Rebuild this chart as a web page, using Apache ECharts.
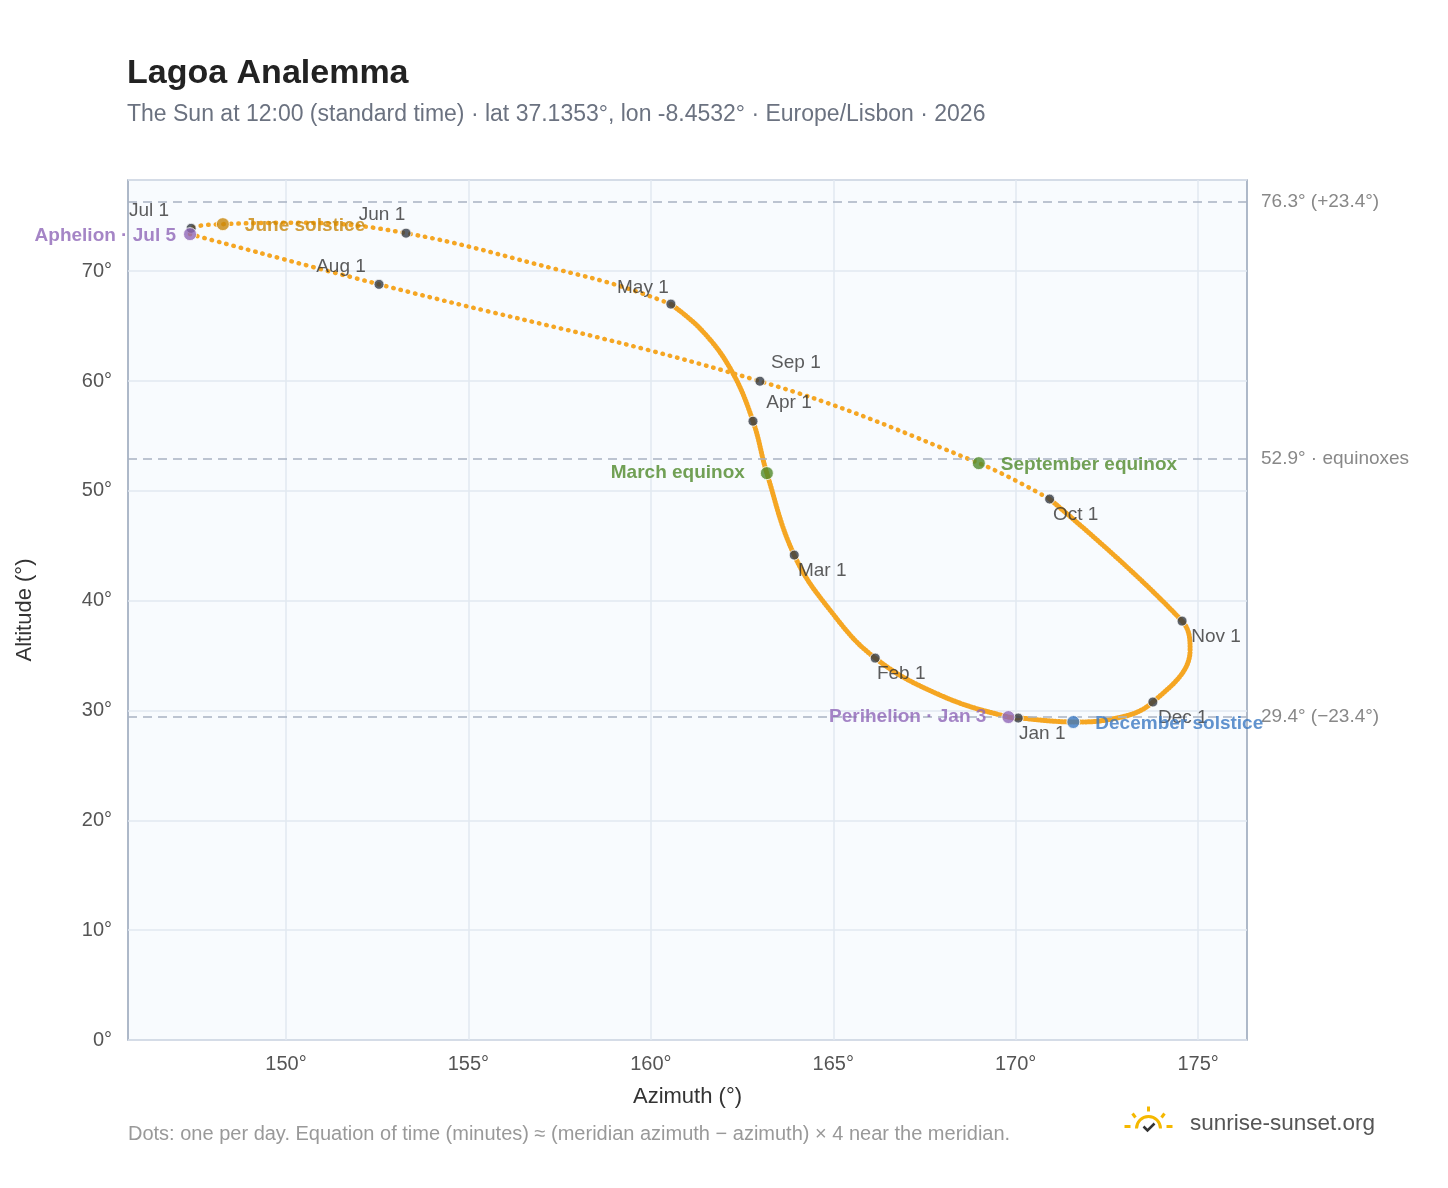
<!DOCTYPE html>
<html><head><meta charset="utf-8">
<script src="https://cdn.jsdelivr.net/npm/echarts@6/dist/echarts.min.js"></script>
<style>html,body{margin:0;background:#fff}#c{width:1448px;height:1188px}</style></head>
<body><div id="c"></div>
<script>
// analemma path [azimuth, altitude], Jan 1 -> Dec 31
const pathDense1 = [[170.07,29.31],[169.8,29.4],[167.93,31.4],[166.15,34.77],[164.92,39.1],[163.93,44.15],[163.18,51.61],[162.80,56.34],[162.2,61.0],[161.4,64.6],[160.55,67.0]];
const pathSparse1 = [[160.55,67.0],[159.2,68.6],[157.5,70.1],[153.29,73.46],[150.38,74.4],[148.27,74.28],[147.4,73.9],[147.37,73.37]];
const pathSparse2 = [[147.37,73.37],[152.55,68.8],[162.99,59.98],[168.99,52.52],[170.93,49.25]];
const pathDense2 = [[170.93,49.25],[174.56,38.14],[174.78,35.5],[173.76,30.77],[172.6,29.2],[171.58,28.95],[170.2,29.3]];
const monthNames = ['Jan 1','Feb 1','Mar 1','Apr 1','May 1','Jun 1','Jul 1','Aug 1','Sep 1','Oct 1','Nov 1','Dec 1'];
const monthPts = [[170.07,29.31],[166.15,34.77],[163.93,44.15],[162.80,56.34],[160.55,67.0],[153.29,73.46],[147.4,73.9],[152.55,68.8],[162.99,59.98],[170.93,49.25],[174.56,38.14],[173.76,30.77]];
const eventNames = ['Aphelion · Jul 5','June solstice','March equinox','September equinox','Perihelion · Jan 3','December solstice'];
const eventPts = [[147.37,73.37],[148.27,74.28],[163.18,51.61],[168.99,52.52],[169.8,29.4],[171.58,28.95]];
const refLines = [76.3,52.9,29.4];
const refLabels = ['76.3° (+23.4°)','52.9° · equinoxes','29.4° (−23.4°)'];
const xTicks = [150,155,160,165,170,175];

const monthOff = {'Jan 1':[24,16],'Feb 1':[26,16],'Mar 1':[28,16],'Apr 1':[36,-18],'May 1':[-28,-16],'Jun 1':[-24,-18],'Jul 1':[-42,-18],'Aug 1':[-38,-18],'Sep 1':[36,-18],'Oct 1':[26,16],'Nov 1':[34,16],'Dec 1':[30,16]};
const eventStyle = [
 ['#8e67b8','left',[-2,2]],['#c8870a','right',[10,2]],['#4f8a2b','left',[-10,0]],
 ['#4f8a2b','right',[10,2]],['#8e67b8','left',[-10,0]],['#3a78c2','right',[10,2]]];
const F='Liberation Sans';
const chart = echarts.init(document.getElementById('c'));
const lineS = (d,dash,w)=>({type:'line',data:d,smooth:0.4,showSymbol:false,z:3,
  lineStyle:{color:'#f5a623',width:w,type:dash,cap:'round'}});
chart.setOption({
 animation:false,
 textStyle:{fontFamily:F},
 title:{text:'Lagoa Analemma',subtext:'The Sun at 12:00 (standard time) · lat 37.1353°, lon -8.4532° · Europe/Lisbon · 2026',
  left:122,top:52,itemGap:12,textStyle:{fontSize:34,fontWeight:'bold',color:'#222',fontFamily:F},
  subtextStyle:{fontSize:23,color:'#6b7280',fontFamily:F}},
 grid:{left:128,right:201,top:180,bottom:148,show:true,borderColor:'#94a3b8',borderWidth:1.5,backgroundColor:'#f8fbfe'},
 xAxis:{type:'value',min:145.67,max:176.34,name:'Azimuth (°)',nameLocation:'middle',nameGap:46,
  nameTextStyle:{fontSize:22,color:'#333'},
  axisLine:{show:false},axisTick:{show:false,customValues:xTicks},
  axisLabel:{customValues:xTicks,formatter:v=>v+'°',fontSize:20,color:'#555',margin:14},
  splitLine:{show:true,lineStyle:{color:'#e2e8f0',width:1.5}}},
 yAxis:{type:'value',min:0,max:78.3,interval:10,name:'Altitude (°)',nameLocation:'middle',nameGap:92,
  nameTextStyle:{fontSize:22,color:'#333'},
  axisLine:{show:false},axisTick:{show:false},
  axisLabel:{formatter:v=>v+'°',fontSize:20,color:'#555',margin:16,showMaxLabel:false},
  splitLine:{lineStyle:{color:'#e2e8f0',width:1.5}}},
 series:[
  {type:'line',data:[],markLine:{silent:true,symbol:'none',
    lineStyle:{color:'#a8b3c2',type:[9,6],width:1.5},
    label:{position:'end',distance:14,color:'#888',fontSize:19,formatter:p=>refLabels[refLines.indexOf(p.value)]},
    data:refLines.map(v=>({yAxis:v}))}},
  lineS(pathDense1,[1,2],5), lineS(pathSparse1,[0.5,7],4.5), lineS(pathSparse2,[0.5,7],4.5), lineS(pathDense2,[1,2],5),
  {type:'scatter',z:5,symbolSize:10,itemStyle:{color:'#333b45',borderColor:'#fff',borderWidth:1},
   data:monthPts.map((p,i)=>({value:p,name:monthNames[i],label:{offset:monthOff[monthNames[i]]}})),
   label:{show:true,formatter:'{b}',position:'inside',fontSize:19,color:'#333'}},
  {type:'scatter',z:6,symbolSize:13,
   data:eventPts.map((p,i)=>({value:p,name:eventNames[i],itemStyle:{color:eventStyle[i][0]},
     label:{color:eventStyle[i][0],position:eventStyle[i][1],offset:eventStyle[i][2]}})),
   itemStyle:{borderColor:'#fff',borderWidth:1},
   label:{show:true,formatter:'{b}',fontSize:19,fontWeight:'bold'}}
 ],
 graphic:[
  {type:'text',left:128,top:1124,style:{text:'Dots: one per day. Equation of time (minutes) ≈ (meridian azimuth − azimuth) × 4 near the meridian.',fontSize:20,fill:'#999',fontFamily:F}},
  {type:'text',left:1190,top:1112,style:{text:'sunrise-sunset.org',fontSize:22.5,fill:'#555',fontFamily:F}},
  {type:'group',left:1122,top:1104,children:[
    {type:'arc',shape:{cx:24,cy:24,r:12,startAngle:Math.PI,endAngle:2*Math.PI},style:{stroke:'#f5b800',lineWidth:3,fill:null}},
    {type:'line',shape:{x1:24,y1:2,x2:24,y2:7},style:{stroke:'#f5b800',lineWidth:3}},
    {type:'line',shape:{x1:8,y1:9,x2:11,y2:13},style:{stroke:'#f5b800',lineWidth:3}},
    {type:'line',shape:{x1:40,y1:9,x2:37,y2:13},style:{stroke:'#f5b800',lineWidth:3}},
    {type:'line',shape:{x1:0,y1:22,x2:6,y2:22},style:{stroke:'#f5b800',lineWidth:3}},
    {type:'line',shape:{x1:42,y1:22,x2:48,y2:22},style:{stroke:'#f5b800',lineWidth:3}},
    {type:'polyline',shape:{points:[[19,22],[23,26],[30,19]]},style:{stroke:'#333',lineWidth:2.5,fill:null}}
  ]}
 ]
});
</script></body></html>
